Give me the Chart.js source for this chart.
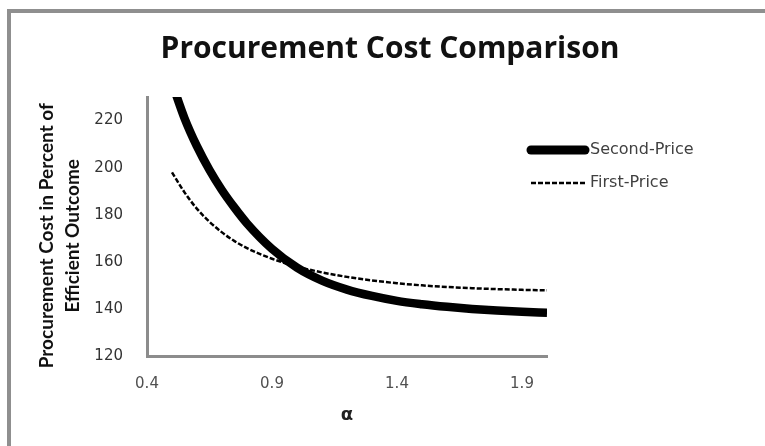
<!DOCTYPE html>
<html lang="en">
  <head>
    <meta charset="UTF-8" />
    <title>Procurement Cost Comparison</title>
    <style>
      html,
      body {
        margin: 0;
        padding: 0;
        background: #fff;
        overflow: hidden;
      }
      .wrap {
        position: relative;
        width: 765px;
        height: 446px;
      }
      .frame {
        position: absolute;
        left: 7px;
        top: 9px;
        width: 900px;
        height: 600px;
        border: 4px solid #8f8f8f;
      }
      canvas {
        position: absolute;
        left: 0;
        top: 0;
      }
    </style>
  </head>
  <body>
    <div class="wrap">
      <div class="frame"></div>
      <canvas id="chart" width="765" height="446"></canvas>
    </div>
    <script src="https://cdn.jsdelivr.net/npm/chart.js@4.4.1/dist/chart.umd.min.js"></script>
    <script>
      const alpha = [0.5, 0.55, 0.6, 0.65, 0.7, 0.75, 0.8, 0.9, 1.0, 1.1, 1.2, 1.3, 1.4, 1.5, 1.6, 1.7, 1.8, 1.9, 2.0];
      const secondPrice = [236, 221, 209, 199, 190.4, 183, 176.3, 165.5, 157.5, 152, 148.2, 145.5, 143.4, 142, 140.9, 140, 139.3, 138.75, 138.35];
      const firstPrice = [198, 189.5, 182.5, 177, 172.5, 168.8, 165.8, 161.3, 158, 155.5, 153.6, 152.1, 150.9, 150, 149.3, 148.8, 148.4, 148.1, 147.9];
      const xTicks = [0.4, 0.9, 1.4, 1.9];
      const yTicks = [120, 140, 160, 180, 200, 220];

      const points = (ys) => alpha.map((a, i) => ({ x: a, y: ys[i] }));

      // Legend drawn beside the plot, like the Excel original.
      const sideLegend = {
        id: "sideLegend",
        afterDraw(chart) {
          const ctx = chart.ctx;
          const rows = [150, 183];
          ctx.save();
          chart.data.datasets.forEach((ds, i) => {
            const y = rows[i];
            ctx.beginPath();
            ctx.lineWidth = ds.legendWidth;
            ctx.strokeStyle = ds.borderColor;
            ctx.setLineDash(ds.borderDash || []);
            ctx.lineCap = i === 0 ? "round" : "butt";
            ctx.moveTo(531, y);
            ctx.lineTo(585, y);
            ctx.stroke();
            ctx.setLineDash([]);
            ctx.fillStyle = "#404040";
            ctx.font = "16px 'DejaVu Sans'";
            ctx.textBaseline = "middle";
            ctx.fillText(ds.label, 590, y);
          });
          ctx.restore();
        },
      };

      const ctx = document.getElementById("chart").getContext("2d");
      new Chart(ctx, {
        type: "line",
        data: {
          datasets: [
            {
              label: "Second-Price",
              data: points(secondPrice),
              borderColor: "#000",
              borderWidth: 8.5,
              legendWidth: 9,
              pointRadius: 0,
              cubicInterpolationMode: "monotone",
            },
            {
              label: "First-Price",
              data: points(firstPrice),
              borderColor: "#000",
              borderWidth: 2.5,
              borderDash: [5, 2],
              legendWidth: 2.5,
              pointRadius: 0,
              cubicInterpolationMode: "monotone",
            },
          ],
        },
        options: {
          responsive: false,
          animation: false,
          layout: { padding: { left: 15, right: 0, top: 0, bottom: 0 } },
          plugins: {
            legend: { display: false },
            tooltip: { enabled: false },
            title: {
              display: true,
              text: "Procurement Cost Comparison",
              color: "#111",
              font: { family: "Open Sans", size: 30, weight: "bold", lineHeight: 1.2 },
              padding: { top: 31, bottom: 30 },
            },
          },
          scales: {
            x: {
              type: "linear",
              min: 0.4,
              max: 2.0,
              afterBuildTicks: (s) => {
                s.ticks = xTicks.map((v) => ({ value: v }));
              },
              afterFit: (s) => {
                s.height = 90;
              },
              grid: { display: false, drawTicks: false },
              border: { color: "#8c8c8c", width: 3 },
              ticks: {
                color: "#505050",
                font: { family: "DejaVu Sans", size: 15 },
                padding: 19,
                maxRotation: 0,
                callback: (v) => v.toFixed(1),
              },
              title: {
                display: true,
                text: "α",
                color: "#222",
                font: { family: "DejaVu Sans", size: 18, weight: "bold" },
                padding: { bottom: 20 },
              },
            },
            y: {
              min: 120,
              max: 230,
              afterBuildTicks: (s) => {
                s.ticks = yTicks.map((v) => ({ value: v }));
              },
              afterFit: (s) => {
                s.width = 132;
              },
              grid: { display: false, drawTicks: false },
              border: { color: "#8c8c8c", width: 3 },
              ticks: {
                color: "#333",
                font: { family: "DejaVu Sans", size: 15 },
                padding: 24,
              },
              title: {
                display: true,
                text: ["Procurement Cost in Percent of    ", "Efficient Outcome    "],
                color: "#111",
                font: { family: "Lato", size: 19, weight: "bold", lineHeight: "26px" },
                padding: { top: 19, bottom: 0 },
              },
            },
            // empty right-hand axis that keeps room for the legend
            yR: {
              position: "right",
              grid: { display: false, drawTicks: false },
              border: { display: false },
              ticks: { display: false },
              afterFit: (s) => {
                s.width = 218;
              },
            },
          },
        },
        plugins: [sideLegend],
      });
    </script>
  </body>
</html>
